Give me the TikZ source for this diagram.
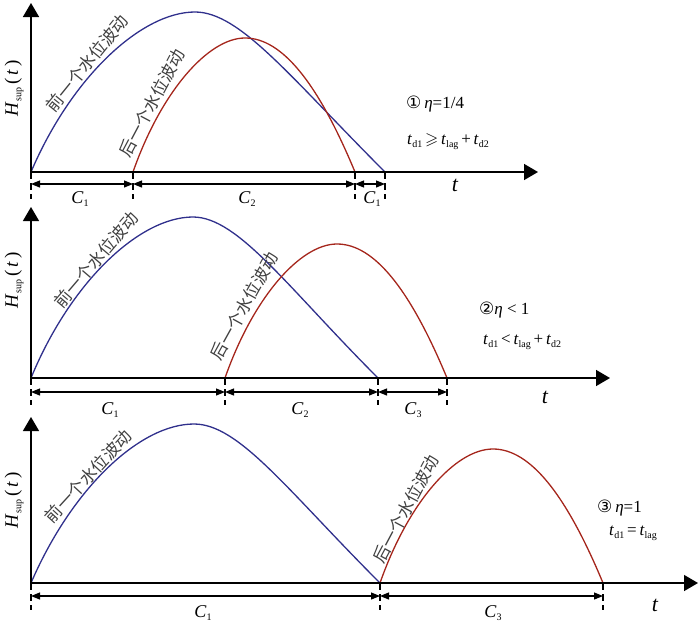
\documentclass[tikz,border=0pt]{standalone}
\usepackage{amssymb}
\usepackage{fontspec}
\setmainfont{Liberation Serif}
\newfontfamily\cjk{Noto Sans CJK SC}
\newfontfamily\circfont{DejaVu Sans}
\usetikzlibrary{arrows.meta}
\definecolor{wblue}{RGB}{48,48,140}
\definecolor{wred}{RGB}{165,38,28}
\newcommand{\vt}{\textit{t}}
\newcommand{\lsub}[1]{\raisebox{-0.4ex}{\fontsize{10}{10}\selectfont #1}}
\newcommand{\hsuplabel}{\textit{H}\lsub{sup}\,(\,\textit{t}\,)}
\tikzset{
  axisline/.style={line width=1.5pt, -{Triangle[length=14pt,width=16pt]}},
  dimline/.style={line width=1.1pt, {Triangle[length=9pt,width=7pt]}-{Triangle[length=9pt,width=7pt]}},
  tickline/.style={line width=1.1pt, dash pattern=on 7pt off 4pt},
  bluewave/.style={draw=wblue, line width=1.3pt},
  redwave/.style={draw=wred, line width=1.3pt},
  cjknote/.style={font=\cjk\fontsize{17}{17}\selectfont, inner sep=0pt, text=black!75},
  clabel/.style={font=\fontsize{18}{18}\selectfont, inner sep=0pt},
  tlabel/.style={font=\fontsize{22}{22}\selectfont\itshape, inner sep=0pt},
  ylabel/.style={font=\fontsize{19}{19}\selectfont, rotate=90, inner sep=0pt},
  note/.style={font=\fontsize{17}{17}\selectfont, inner sep=0pt, anchor=west},
}
\begin{document}
\begin{tikzpicture}[x=1pt,y=-1pt]
\useasboundingbox (0,0) rectangle (700,624);

% ---------- Panel 1 ----------
\coordinate (o1) at (31,172);
\coordinate (y1) at (31,3);
\coordinate (x1) at (538,172);
\coordinate (a1) at (133,172);
\coordinate (b1) at (355,172);
\coordinate (c1) at (385,172);
\coordinate (o1d) at (31,199);
\coordinate (a1d) at (133,199);
\coordinate (b1d) at (355,199);
\coordinate (c1d) at (385,199);
\coordinate (o1m) at (31,184);
\coordinate (a1m) at (133,184);
\coordinate (b1m) at (355,184);
\coordinate (c1m) at (385,184);

\draw[bluewave] (o1) .. controls (72,76) and (142,12) .. (195,12) .. controls (240,12) and (290,77) .. (c1);
\draw[redwave] (a1) .. controls (161,92) and (208,38) .. (245,38) .. controls (282,38) and (318,83) .. (b1);
\draw[axisline] (o1) -- (y1);
\draw[axisline] (o1) -- (x1);
\foreach \p in {o1,a1,b1,c1} \draw[tickline] (\p) -- (\p d);
\draw[dimline] (o1m) -- (a1m);
\draw[dimline] (a1m) -- (b1m);
\draw[dimline] (b1m) -- (c1m);
\node[clabel] (p1c1) at (80,199) {\textit{C}\lsub{1}};
\node[clabel] (p1c2) at (247,199) {\textit{C}\lsub{2}};
\node[clabel] (p1c3) at (372,199) {\textit{C}\lsub{1}};
\node[tlabel] (p1t) at (455,185) {t};
\node[ylabel] (p1h) at (14,88) {\hsuplabel};
\node[cjknote, rotate=51] (p1f) at (87,63) {前一个水位波动};
\node[cjknote, rotate=62] (p1b) at (152,103) {后一个水位波动};
\node[note] (p1n1) at (406,104) {{\circfont ①}\,\textit{η}=1/4};
\node[note] (p1n2) at (407,142) {\vt\lsub{d1}\,$\geqslant$\,\vt\lsub{lag}\,+\,\vt\lsub{d2}};

% ---------- Panel 2 ----------
\coordinate (o2) at (31,378);
\coordinate (y2) at (31,207);
\coordinate (x2) at (610,378);
\coordinate (a2) at (225,378);
\coordinate (b2) at (378,378);
\coordinate (c2) at (447,378);
\coordinate (o2d) at (31,405);
\coordinate (a2d) at (225,405);
\coordinate (b2d) at (378,405);
\coordinate (c2d) at (447,405);
\coordinate (o2m) at (31,392);
\coordinate (a2m) at (225,392);
\coordinate (b2m) at (378,392);
\coordinate (c2m) at (447,392);

\draw[bluewave] (o2) .. controls (71,281) and (140,217) .. (193,217) .. controls (238,217) and (288,288) .. (b2);
\draw[redwave] (a2) .. controls (253,298) and (300,244) .. (337,244) .. controls (374,244) and (410,289) .. (c2);
\draw[axisline] (o2) -- (y2);
\draw[axisline] (o2) -- (x2);
\foreach \p in {o2,a2,b2,c2} \draw[tickline] (\p) -- (\p d);
\draw[dimline] (o2m) -- (a2m);
\draw[dimline] (a2m) -- (b2m);
\draw[dimline] (b2m) -- (c2m);
\node[clabel] (p2c1) at (110,410) {\textit{C}\lsub{1}};
\node[clabel] (p2c2) at (300,410) {\textit{C}\lsub{2}};
\node[clabel] (p2c3) at (413,410) {\textit{C}\lsub{3}};
\node[tlabel] (p2t) at (545,397) {t};
\node[ylabel] (p2h) at (14,280) {\hsuplabel};
\node[cjknote, rotate=49.5] (p2f) at (96,260) {前一个水位波动};
\node[cjknote, rotate=61] (p2b) at (244,306) {后一个水位波动};
\node[note] (p2n1) at (479,310) {{\circfont ②}\textit{η} < 1};
\node[note] (p2n2) at (483,342) {\vt\lsub{d1}\,<\,\vt\lsub{lag}\,+\,\vt\lsub{d2}};

% ---------- Panel 3 ----------
\coordinate (o3) at (31,583);
\coordinate (y3) at (31,417);
\coordinate (x3) at (698,583);
\coordinate (a3) at (380,583);
\coordinate (b3) at (603,583);
\coordinate (o3d) at (31,610);
\coordinate (a3d) at (380,610);
\coordinate (b3d) at (603,610);
\coordinate (o3m) at (31,596);
\coordinate (a3m) at (380,596);
\coordinate (b3m) at (603,596);

\draw[bluewave] (o3) .. controls (72,488) and (140,424) .. (194,424) .. controls (239,424) and (287,490) .. (a3);
\draw[redwave] (a3) .. controls (408,503) and (455,449) .. (493,449) .. controls (530,449) and (566,494) .. (b3);
\draw[axisline] (o3) -- (y3);
\draw[axisline] (o3) -- (x3);
\foreach \p in {o3,a3,b3} \draw[tickline] (\p) -- (\p d);
\draw[dimline] (o3m) -- (a3m);
\draw[dimline] (a3m) -- (b3m);
\node[clabel] (p3c1) at (203,613) {\textit{C}\lsub{1}};
\node[clabel] (p3c3) at (493,613) {\textit{C}\lsub{3}};
\node[tlabel] (p3t) at (655,605) {t};
\node[ylabel] (p3h) at (14,500) {\hsuplabel};
\node[cjknote, rotate=47.5] (p3f) at (88,476) {前一个水位波动};
\node[cjknote, rotate=62] (p3b) at (406,509) {后一个水位波动};
\node[note] (p3n1) at (597,508) {{\circfont ③}\,\textit{η}=1};
\node[note] (p3n2) at (609,533) {\vt\lsub{d1}\,=\,\vt\lsub{lag}};
\end{tikzpicture}
\end{document}
